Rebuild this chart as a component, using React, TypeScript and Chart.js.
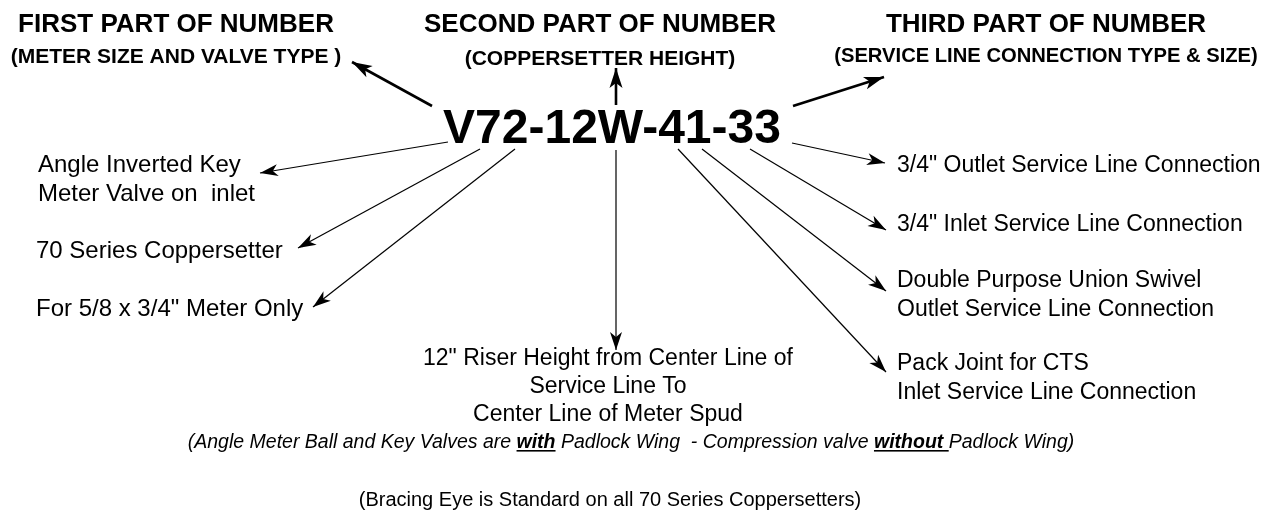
import React, { useEffect, useRef } from "react";
import { Chart, registerables } from "chart.js";

Chart.register(...registerables);

const CANVAS_W = 1263;
const CANVAS_H = 513;
const FONT = '"Liberation Sans", Arial, Helvetica, sans-serif';

// ---- headings ----
const headingTitles = ["FIRST PART OF NUMBER", "SECOND PART OF NUMBER", "THIRD PART OF NUMBER"];
const headingSubtitles = ["(METER SIZE AND VALVE TYPE )", "(COPPERSETTER HEIGHT)", "(SERVICE LINE CONNECTION TYPE & SIZE)"];
const headingX = [176, 600, 1046];
const headingTitleY = [32, 32, 32];
const headingSubtitleY = [63, 65, 62];
const headingSubtitleSize = [21, 21, 20.2];

// ---- part number ----
const partNumber = "V72-12W-41-33";
const partNumberX = 612;
const partNumberY = 143;

// ---- left labels ----
const leftLabels = [["Angle Inverted Key", "Meter Valve on  inlet"], ["70 Series Coppersetter"], ['For 5/8 x 3/4" Meter Only']];
const leftLabelX = [38, 36, 36];
const leftLabelY = [172, 258, 316];

// ---- right labels ----
const rightLabels = [
  ['3/4" Outlet Service Line Connection'],
  ['3/4" Inlet Service Line Connection'],
  ["Double Purpose Union Swivel", "Outlet Service Line Connection"],
  ["Pack Joint for CTS", "Inlet Service Line Connection"],
];
const rightLabelX = [897, 897, 897, 897];
const rightLabelY = [172, 231, 287, 370];

// ---- center label ----
const centerLabel = ['12" Riser Height from Center Line of', "Service Line To", "Center Line of Meter Spud"];
const centerLabelX = 608;
const centerLabelY = [365, 393, 421];

// ---- footnotes ----
const footnoteSegments = [
  "(Angle Meter Ball and Key Valves are ",
  "with",
  " Padlock Wing  - Compression valve ",
  "without ",
  "Padlock Wing)",
];
const footnoteEmphasis = [false, true, false, true, false];
const footnoteX = 631;
const footnoteY = 448;
const bracingNote = "(Bracing Eye is Standard on all 70 Series Coppersetters)";
const bracingX = 610;
const bracingY = 506;

// ---- arrows (from -> to, in diagram units) ----
const arrowFromX = [432, 616, 793, 448, 480, 515, 616, 792, 750, 702, 678];
const arrowFromY = [106, 105, 106, 142, 149, 149, 150, 143, 149, 149, 149];
const arrowToX = [352, 616, 884, 260, 298, 313, 616, 885, 886, 886, 886];
const arrowToY = [62, 68, 77, 173, 248, 307, 350, 163, 230, 291, 372];
const arrowHeavy = [true, true, true, false, false, false, false, false, false, false, false];

type XY = { x: number; y: number };

const decorPlugin = {
  id: "diagramDecor",
  afterDatasetsDraw(chart: any) {
    const ctx: CanvasRenderingContext2D = chart.ctx;
    const xs = chart.scales.x;
    const ys = chart.scales.y;
    const px = (v: number) => xs.getPixelForValue(v);
    const py = (v: number) => ys.getPixelForValue(v);
    ctx.save();
    ctx.fillStyle = "#000";
    ctx.strokeStyle = "#000";

    // arrow heads
    for (let i = 0; i < arrowToX.length; i++) {
      const x0 = px(arrowFromX[i]);
      const y0 = py(arrowFromY[i]);
      const x1 = px(arrowToX[i]);
      const y1 = py(arrowToY[i]);
      const ang = Math.atan2(y1 - y0, x1 - x0);
      const L = arrowHeavy[i] ? 20 : 18;
      const hw = arrowHeavy[i] ? 6.5 : 6;
      const notch = 5;
      const ca = Math.cos(ang);
      const sa = Math.sin(ang);
      const bx = x1 - L * ca;
      const by = y1 - L * sa;
      ctx.beginPath();
      ctx.moveTo(x1, y1);
      ctx.lineTo(bx - hw * sa, by + hw * ca);
      ctx.lineTo(x1 - (L - notch) * ca, y1 - (L - notch) * sa);
      ctx.lineTo(bx + hw * sa, by - hw * ca);
      ctx.closePath();
      ctx.fill();
    }

    // text
    ctx.textBaseline = "alphabetic";
    ctx.textAlign = "center";
    ctx.font = `bold 26px ${FONT}`;
    headingTitles.forEach((t, i) => ctx.fillText(t, px(headingX[i]), py(headingTitleY[i])));
    headingSubtitles.forEach((t, i) => {
      ctx.font = `bold ${headingSubtitleSize[i]}px ${FONT}`;
      ctx.fillText(t, px(headingX[i]), py(headingSubtitleY[i]));
    });

    ctx.font = `bold 48px ${FONT}`;
    ctx.fillText(partNumber, px(partNumberX), py(partNumberY));

    ctx.textAlign = "left";
    ctx.font = `24px ${FONT}`;
    const lineGap = 29;
    leftLabels.forEach((lines, i) =>
      lines.forEach((l, j) => ctx.fillText(l, px(leftLabelX[i]), py(leftLabelY[i] + j * lineGap)))
    );
    ctx.font = `23px ${FONT}`;
    rightLabels.forEach((lines, i) =>
      lines.forEach((l, j) => ctx.fillText(l, px(rightLabelX[i]), py(rightLabelY[i] + j * lineGap)))
    );
    ctx.textAlign = "center";
    centerLabel.forEach((l, j) => ctx.fillText(l, px(centerLabelX), py(centerLabelY[j])));

    // footnote with emphasis
    ctx.textAlign = "left";
    const fontFor = (em: boolean) => (em ? `italic bold 19.5px ${FONT}` : `italic 19.5px ${FONT}`);
    let total = 0;
    const widths = footnoteSegments.map((s, i) => {
      ctx.font = fontFor(footnoteEmphasis[i]);
      const w = ctx.measureText(s).width;
      total += w;
      return w;
    });
    let cx = px(footnoteX) - total / 2;
    const fy = py(footnoteY);
    footnoteSegments.forEach((s, i) => {
      ctx.font = fontFor(footnoteEmphasis[i]);
      ctx.fillText(s, cx, fy);
      if (footnoteEmphasis[i]) {
        ctx.fillRect(cx, fy + 2, widths[i], 1.6);
      }
      cx += widths[i];
    });

    ctx.font = `20px ${FONT}`;
    ctx.textAlign = "center";
    ctx.fillText(bracingNote, px(bracingX), py(bracingY));
    ctx.restore();
  },
};

export default function App() {
  const ref = useRef<HTMLCanvasElement | null>(null);
  useEffect(() => {
    if (!ref.current) return;
    const datasets = arrowFromX.map((_, i) => ({
      type: "line" as const,
      data: [
        { x: arrowFromX[i], y: arrowFromY[i] } as XY,
        { x: arrowToX[i], y: arrowToY[i] } as XY,
      ],
      borderColor: "#000",
      borderWidth: arrowHeavy[i] ? 2.6 : 1.2,
      pointRadius: 0,
      fill: false,
      tension: 0,
      clip: false as any,
    }));
    const chart = new Chart(ref.current, {
      type: "line",
      data: { datasets },
      options: {
        animation: false,
        responsive: false,
        devicePixelRatio: 1,
        parsing: false as any,
        layout: { padding: 0 },
        plugins: { legend: { display: false }, tooltip: { enabled: false }, title: { display: false } },
        events: [],
        scales: {
          x: { type: "linear", min: 0, max: CANVAS_W, display: false },
          y: { type: "linear", min: 0, max: CANVAS_H, reverse: true, display: false },
        },
      },
      plugins: [decorPlugin],
    });
    return () => chart.destroy();
  }, []);
  return (
    <div style={{ position: "absolute", left: 0, top: 0, width: CANVAS_W, height: CANVAS_H, background: "#fff" }}>
      <canvas ref={ref} width={CANVAS_W} height={CANVAS_H} style={{ display: "block" }} />
    </div>
  );
}
